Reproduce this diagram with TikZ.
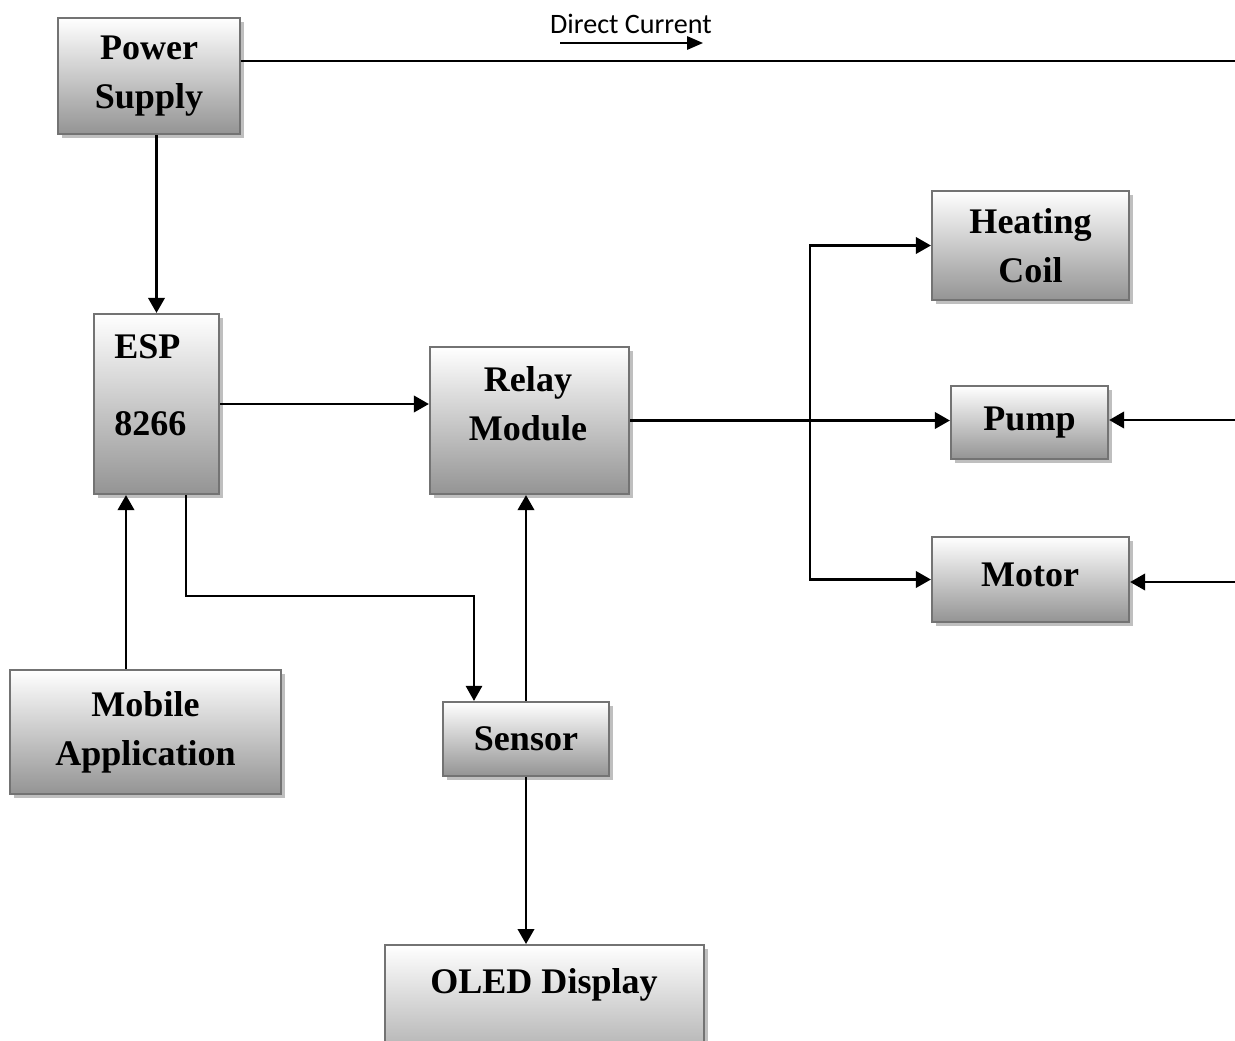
\documentclass[tikz,border=0pt]{standalone}
\usepackage{fontspec}
\setmainfont{Liberation Serif}
\newfontfamily\dcfont{Carlito}
\usepackage{tikz}
\usetikzlibrary{arrows.meta, positioning, calc, shadows}

\begin{document}
\begin{tikzpicture}[
  x=0.02cm, y=-0.02cm,
  blk/.style={draw=black!55, line width=1.3pt, top color=white, bottom color=black!42,
    drop shadow={shadow xshift=0.08cm, shadow yshift=-0.08cm, fill=black!25, opacity=1},
    align=center, inner sep=0pt, font=\fontsize{20.5pt}{28pt}\selectfont\bfseries},
  txt/.style={align=center, inner sep=0pt, font=\fontsize{20.5pt}{28pt}\selectfont\bfseries},
  arr/.style={-{Triangle[length=0.3cm, width=0.33cm]}, line width=1.3pt},
  wire/.style={line width=1.2pt},
  thinarr/.style={-{Triangle[length=0.3cm, width=0.33cm]}, line width=0.75pt}
]
  \useasboundingbox (0,0) rectangle (1235,1041);

  % blocks
  \node[blk, minimum width=3.64cm, minimum height=2.32cm] (pwr) at (149, 76) {Power\\Supply};
  \node[blk, minimum width=2.5cm, minimum height=3.6cm] (esp) at (156.5, 404) {};
  \node[blk, minimum width=3.98cm, minimum height=2.94cm] (relay) at (529.5, 420.5) {};
  \node[blk, minimum width=3.94cm, minimum height=2.18cm] (heat) at (1030.5, 245.5) {Heating\\Coil};
  \node[blk, minimum width=3.14cm, minimum height=1.46cm] (pump) at (1029.5, 422.5) {Pump};
  \node[blk, minimum width=3.94cm, minimum height=1.7cm] (motor) at (1030.5, 579.5) {};
  \node[blk, minimum width=5.42cm, minimum height=2.48cm] (mob) at (145.5, 732) {Mobile\\Application};
  \node[blk, minimum width=3.32cm, minimum height=1.48cm] (sensor) at (526, 739) {Sensor};
  \node[blk, minimum width=6.38cm, minimum height=3cm, anchor=north] (oled) at (544.5, 944) {};

  % texts placed off centre
  \node[txt, align=left, anchor=west] (esptxt) at (114, 385) {ESP\\[0.56cm]8266};
  \node[txt] (relaytxt) at (528, 403.5) {Relay\\Module};
  \node[txt, anchor=base] (motortxt) at (1030, 586) {Motor};
  \node[txt, anchor=base] (oledtxt) at (544, 993) {OLED Display};

  % direct current
  \node[font=\dcfont\fontsize{16pt}{19pt}\selectfont, inner sep=0pt] (dc) at (631, 24) {Direct Current};
  \coordinate (dca) at (560, 43);
  \coordinate (dcb) at (703, 43);
  \draw[-{Triangle[length=0.32cm, width=0.27cm]}, line width=0.9pt] (dca) -- (dcb);
  \coordinate (dcend) at (1235, 61);
  \draw[wire] (pwr.east |- dcend) -- (dcend);

  % connectors
  \coordinate (mobx) at (126, 0);
  \coordinate (espx) at (186, 596);
  \coordinate (senx) at (474, 0);
  \coordinate (jn) at (810, 420);
  \coordinate (pin) at (1235, 420);
  \coordinate (min) at (1235, 582);
  \draw[arr] (pwr.south -| esp.north) -- (esp.north);
  \draw[arr] (esp.east) -- (relay.west |- esp.east);
  \draw[arr] (relay.east) -- (pump.west |- relay.east);
  \draw[arr] (jn) |- (heat.west);
  \draw[arr] (jn) |- (motor.west);
  \draw[arr] (pin) -- (pump.east |- pin);
  \draw[arr] (min) -- (motor.east |- min);
  \draw[arr] (mob.north -| mobx) -- (esp.south -| mobx);
  \draw[thinarr] (esp.south -| espx) -- (espx) -| (sensor.north -| senx);
  \draw[arr] (sensor.north) -- (sensor.north |- relay.south);
  \draw[arr] (sensor.south) -- (sensor.south |- oled.north);
\end{tikzpicture}
\end{document}
